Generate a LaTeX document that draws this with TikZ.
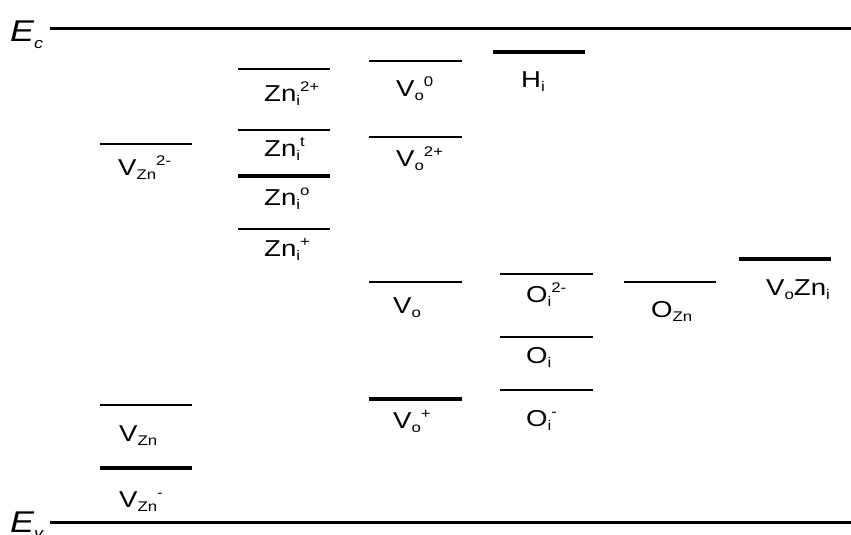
\documentclass[tikz,border=0pt]{standalone}
\usepackage{fontspec}
\setmainfont{Liberation Sans}[FakeStretch=1.2]
\newcommand\dsub[1]{\raisebox{-4.5pt}{\fontsize{14}{15}\selectfont #1}}
\newcommand\dsup[1]{\raisebox{10pt}{\fontsize{14}{15}\selectfont #1}}
\begin{document}
\begin{tikzpicture}[x=1pt,y=-1pt,
  lvl/.style={line width=2.4pt},
  lvlthick/.style={line width=3.4pt},
  band/.style={line width=3pt},
  lab/.style={anchor=base west, inner sep=0pt, font=\fontsize{23}{26}\selectfont},
  elab/.style={anchor=base west, inner sep=0pt, font=\fontsize{30}{34}\selectfont\itshape}]
\useasboundingbox (0,0) rectangle (851,535);
% band edges
\node[elab] (Ec) at (10,42) {E\raisebox{-6pt}{\fontsize{15}{16}\selectfont c}};
\node[elab] (Ev) at (10,532) {E\raisebox{-6pt}{\fontsize{15}{16}\selectfont v}};
\draw[band] (50,29) -- (851,29);
\draw[band] (50,522) -- (851,522);
% column 1: V_Zn
\draw[lvl] (100,144) -- (192,144);
\node[lab] (vzn2) at (118,175) {V\dsub{Zn}\dsup{2-}};
\draw[lvl] (100,405) -- (192,405);
\node[lab] (vzn0) at (119,441) {V\dsub{Zn}};
\draw[lvlthick] (100,468) -- (192,468);
\node[lab] (vzn1) at (119,507) {V\dsub{Zn}\dsup{-}};
% column 2: Zn_i
\draw[lvl] (238,69) -- (330,69);
\node[lab] (zni2) at (264,101) {Zn\dsub{i}\dsup{2+}};
\draw[lvl] (238,130) -- (330,130);
\node[lab] (znit) at (264,156) {Zn\dsub{i}\dsup{t}};
\draw[lvlthick] (238,176) -- (330,176);
\node[lab] (znio) at (264,205) {Zn\dsub{i}\dsup{o}};
\draw[lvl] (238,229) -- (330,229);
\node[lab] (zni1) at (264,256) {Zn\dsub{i}\dsup{+}};
% column 3: V_o
\draw[lvl] (369,61) -- (462,61);
\node[lab] (vo0) at (396,96) {V\dsub{o}\dsup{0}};
\draw[lvl] (369,137) -- (462,137);
\node[lab] (vo2) at (396,166) {V\dsub{o}\dsup{2+}};
\draw[lvl] (369,282) -- (462,282);
\node[lab] (vo) at (393,313) {V\dsub{o}};
\draw[lvlthick] (369,399) -- (462,399);
\node[lab] (vo1) at (393,428) {V\dsub{o}\dsup{+}};
% column 4: H_i, O_i
\draw[lvlthick] (493,52) -- (585,52);
\node[lab] (hi) at (521,87) {H\dsub{i}};
\draw[lvl] (500,274) -- (593,274);
\node[lab] (oi2) at (526,302) {O\dsub{i}\dsup{2-}};
\draw[lvl] (500,337) -- (593,337);
\node[lab] (oi0) at (526,363) {O\dsub{i}};
\draw[lvl] (500,390) -- (593,390);
\node[lab] (oi1) at (526,426) {O\dsub{i}\dsup{-}};
% column 5: O_Zn
\draw[lvl] (624,282) -- (716,282);
\node[lab] (ozn) at (651,317) {O\dsub{Zn}};
% column 6: VoZni
\draw[lvlthick] (739,259) -- (831,259);
\node[lab] (vozni) at (766,295) {V\dsub{o}Zn\dsub{i}};
\end{tikzpicture}
\end{document}
